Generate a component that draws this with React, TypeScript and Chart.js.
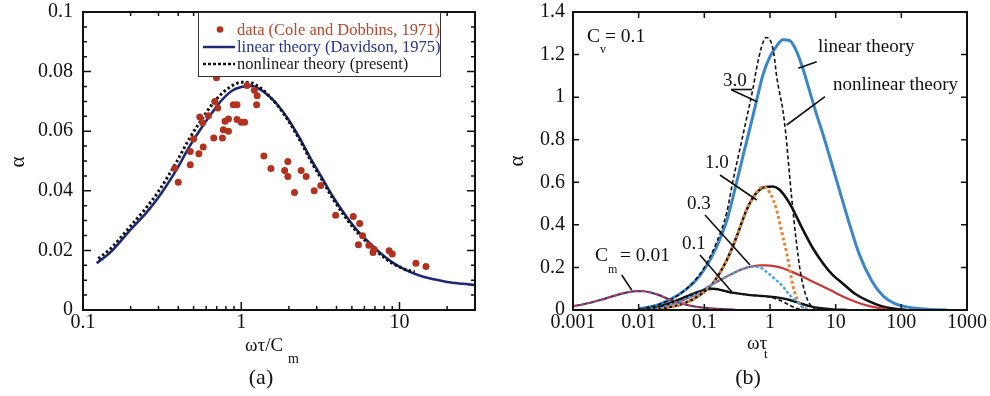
import React, { useEffect, useRef } from 'react';
import { Chart, registerables } from 'chart.js';
Chart.register(...registerables);

const FONT = "'Liberation Serif', 'Times New Roman', serif";

// ---------------- Panel (a) data ----------------
const A_X_TICKS = [0.1, 1, 10];
const A_X_LABELS = ['0.1', '1', '10'];
const A_X_MINOR = [0.2, 0.3, 0.4, 0.5, 0.6, 0.7, 0.8, 0.9, 2, 3, 4, 5, 6, 7, 8, 9, 20];
const A_Y_TICKS = [0, 0.02, 0.04, 0.06, 0.08, 0.1];
const A_Y_LABELS = ['0', '0.02', '0.04', '0.06', '0.08', '0.1'];
const A_Y_MINOR = [0.005, 0.01, 0.015, 0.025, 0.03, 0.035, 0.045, 0.05, 0.055, 0.065, 0.07, 0.075, 0.085, 0.09, 0.095];

const A_LIN_X = [0.122, 0.15, 0.2, 0.25, 0.3, 0.39, 0.47, 0.55, 0.65, 0.75, 0.87, 1.0, 1.15, 1.3, 1.5, 1.7, 2.0, 2.35, 2.8, 3.2, 3.8, 4.5, 5.3, 6.2, 7.5, 9, 11, 13.5, 16.5, 20, 25, 30];
const A_LIN_Y = [0.0157, 0.0195, 0.027, 0.0325, 0.0378, 0.0471, 0.0548, 0.0605, 0.066, 0.0703, 0.0735, 0.0748, 0.0752, 0.0742, 0.0717, 0.0688, 0.0637, 0.0575, 0.05, 0.0448, 0.038, 0.0322, 0.0272, 0.0234, 0.0193, 0.016, 0.0134, 0.0115, 0.0103, 0.0094, 0.0088, 0.0084];

const A_NL_X = [0.125, 0.15, 0.2, 0.25, 0.3, 0.39, 0.47, 0.55, 0.65, 0.75, 0.87, 1.0, 1.15, 1.3, 1.5, 1.7, 2.0, 2.35, 2.8, 3.2, 3.8, 4.5, 5.3, 6.2, 7.5, 9, 11, 12.5];
const A_NL_Y = [0.0172, 0.0207, 0.0282, 0.0342, 0.0398, 0.0497, 0.0575, 0.0632, 0.0688, 0.0725, 0.0752, 0.0764, 0.0762, 0.0748, 0.0718, 0.0686, 0.0632, 0.0569, 0.0493, 0.0441, 0.0373, 0.0315, 0.0266, 0.0228, 0.0188, 0.0157, 0.0135, 0.0128];

const A_DATA_X = [0.38, 0.40, 0.476, 0.476, 0.50, 0.54, 0.547, 0.57, 0.575, 0.62, 0.67, 0.68, 0.697, 0.71, 0.76, 0.77, 0.79, 0.83, 0.83, 0.89, 0.94, 0.94, 1.0, 1.05, 1.088, 1.21, 1.26, 1.25, 1.39, 1.54, 1.88, 1.97, 1.97, 2.17, 2.39, 2.57, 2.89, 3.18, 3.95, 5.1, 5.6, 5.85, 5.5, 6.4, 6.8, 6.9, 8.6, 9.0, 12.7, 14.7];
const A_DATA_Y = [0.0476, 0.0429, 0.0487, 0.0532, 0.0574, 0.0524, 0.0648, 0.0628, 0.0547, 0.0652, 0.0577, 0.070, 0.0779, 0.0678, 0.0577, 0.0605, 0.0633, 0.0641, 0.060, 0.0689, 0.0689, 0.0639, 0.063, 0.063, 0.0753, 0.0737, 0.0719, 0.0689, 0.0517, 0.0475, 0.0468, 0.0498, 0.0448, 0.0394, 0.0468, 0.0448, 0.040, 0.0418, 0.0318, 0.0314, 0.029, 0.0249, 0.0219, 0.0217, 0.0193, 0.0204, 0.0199, 0.0188, 0.0157, 0.0146];

// ---------------- Panel (b) data ----------------
const B_X_TICKS = [0.001, 0.01, 0.1, 1, 10, 100, 1000];
const B_X_LABELS = ['0.001', '0.01', '0.1', '1', '10', '100', '1000'];
const B_Y_TICKS = [0, 0.2, 0.4, 0.6, 0.8, 1.0, 1.2, 1.4];
const B_Y_LABELS = ['0', '0.2', '0.4', '0.6', '0.8', '1', '1.2', '1.4'];

// Cm = 0.01 (linear and nonlinear coincide)
const B001_X = [0.001, 0.0015, 0.0026, 0.0046, 0.007, 0.0093, 0.012, 0.0148, 0.02, 0.0267, 0.035, 0.048, 0.065, 0.085, 0.12, 0.19, 0.3];
const B001_Y = [0.018, 0.028, 0.047, 0.07, 0.084, 0.089, 0.088, 0.083, 0.071, 0.055, 0.041, 0.028, 0.019, 0.013, 0.008, 0.004, 0.001];

// Cm = 0.1
const B01L_X = [0.0105, 0.015, 0.02, 0.027, 0.04, 0.06, 0.085, 0.108, 0.135, 0.17, 0.22, 0.3, 0.5, 0.75, 1.0, 1.4, 2.0, 3.0, 4.0, 6, 9.1, 15];
const B01L_Y = [0.0, 0.008, 0.015, 0.028, 0.048, 0.07, 0.088, 0.097, 0.1, 0.096, 0.087, 0.079, 0.07, 0.066, 0.063, 0.057, 0.047, 0.03, 0.018, 0.008, 0.003, 0.0];
const B01N_X = [0.0105, 0.015, 0.02, 0.027, 0.04, 0.06, 0.085, 0.108, 0.135, 0.17, 0.22, 0.3, 0.5, 0.75, 1.0, 1.3, 1.6, 2.0, 2.5, 3.2];
const B01N_Y = [0.0, 0.008, 0.015, 0.028, 0.048, 0.07, 0.088, 0.097, 0.1, 0.096, 0.087, 0.079, 0.07, 0.066, 0.06, 0.05, 0.038, 0.022, 0.008, 0.0];

// Cm = 0.3
const B03L_X = [0.0105, 0.015, 0.02, 0.03, 0.048, 0.07, 0.1, 0.15, 0.245, 0.35, 0.5, 0.7, 0.88, 1.2, 1.57, 2.2, 3.2, 4.5, 6.4, 9, 11.5, 16, 25, 40, 60];
const B03L_Y = [0.0, 0.006, 0.012, 0.025, 0.047, 0.07, 0.098, 0.13, 0.165, 0.188, 0.203, 0.21, 0.21, 0.205, 0.196, 0.178, 0.156, 0.133, 0.11, 0.088, 0.07, 0.05, 0.028, 0.012, 0.004];
const B03N_X = [0.0105, 0.015, 0.02, 0.03, 0.048, 0.07, 0.1, 0.15, 0.245, 0.35, 0.5, 0.7, 0.88, 1.2, 1.57, 2.0, 2.55, 3.0, 3.6, 4.0];
const B03N_Y = [0.0, 0.006, 0.012, 0.025, 0.047, 0.07, 0.098, 0.13, 0.165, 0.188, 0.203, 0.2, 0.18, 0.145, 0.11, 0.07, 0.04, 0.02, 0.005, 0.0];

// Cm = 1.0
const B1L_X = [0.015, 0.025, 0.048, 0.085, 0.135, 0.22, 0.31, 0.44, 0.62, 0.85, 1.1, 1.4, 2.0, 3.2, 4.5, 6.4, 9, 12.8, 20, 30, 50, 80, 120];
const B1L_Y = [0.0, 0.01, 0.03, 0.07, 0.126, 0.235, 0.344, 0.47, 0.55, 0.578, 0.58, 0.565, 0.5, 0.375, 0.29, 0.22, 0.165, 0.125, 0.075, 0.045, 0.018, 0.006, 0.0];
const B1N_X = [0.015, 0.025, 0.048, 0.085, 0.135, 0.22, 0.31, 0.44, 0.62, 0.78, 1.0, 1.26, 1.5, 1.79, 2.25, 2.7, 3.2, 3.6];
const B1N_Y = [0.0, 0.01, 0.03, 0.07, 0.126, 0.235, 0.344, 0.47, 0.55, 0.58, 0.55, 0.47, 0.37, 0.27, 0.11, 0.04, 0.012, 0.0];

// Cm = 3.0
const B3L_X = [0.01, 0.02, 0.04, 0.07, 0.1, 0.15, 0.22, 0.31, 0.4, 0.5, 0.62, 0.79, 1.0, 1.26, 1.57, 2.0, 2.5, 3.2, 4.0, 5.1, 6.5, 8.1, 11.5, 16, 23, 35, 52, 80, 136, 250, 500];
const B3L_Y = [0.005, 0.025, 0.07, 0.13, 0.19, 0.29, 0.42, 0.6, 0.74, 0.86, 0.98, 1.11, 1.19, 1.24, 1.27, 1.265, 1.22, 1.13, 1.03, 0.92, 0.82, 0.72, 0.56, 0.41, 0.26, 0.14, 0.068, 0.03, 0.012, 0.004, 0.0];
const B3N_X = [0.01, 0.02, 0.04, 0.07, 0.1, 0.15, 0.22, 0.27, 0.35, 0.44, 0.55, 0.62, 0.75, 0.87, 1.0, 1.15, 1.26, 1.4, 1.57, 1.75, 1.9, 2.15, 2.5, 2.9, 3.5, 4.2, 5];
const B3N_Y = [0.005, 0.025, 0.07, 0.135, 0.2, 0.31, 0.46, 0.6, 0.76, 0.9, 1.04, 1.13, 1.24, 1.28, 1.27, 1.2, 1.1, 1.02, 0.94, 0.82, 0.7, 0.52, 0.33, 0.18, 0.07, 0.02, 0.0];

// ---------------- helpers ----------------
const pts = (xs: number[], ys: number[]) => xs.map((x, i) => ({ x, y: ys[i] }));

function lineDs(xs: number[], ys: number[], color: string, width: number, dash: number[] = []) {
  return {
    type: 'line',
    data: pts(xs, ys),
    borderColor: color,
    backgroundColor: color,
    borderWidth: width,
    borderDash: dash,
    pointRadius: 0,
    fill: false,
    tension: 0,
    cubicInterpolationMode: 'monotone',
  };
}

function framePlugin(xMajor: number[], xMinor: number[], yMajor: number[], yMinor: number[], majLen: number, minLen: number) {
  return {
    id: 'frameTicks',
    afterDatasetsDraw(chart: any) {
      const { ctx, chartArea: a, scales } = chart;
      const xs = scales.x, ys = scales.y;
      ctx.save();
      ctx.strokeStyle = '#111';
      ctx.lineWidth = 1.5;
      ctx.beginPath();
      const xt = (v: number, L: number) => {
        const p = xs.getPixelForValue(v);
        ctx.moveTo(p, a.bottom); ctx.lineTo(p, a.bottom - L);
        ctx.moveTo(p, a.top); ctx.lineTo(p, a.top + L);
      };
      const yt = (v: number, L: number) => {
        const p = ys.getPixelForValue(v);
        ctx.moveTo(a.left, p); ctx.lineTo(a.left + L, p);
        ctx.moveTo(a.right, p); ctx.lineTo(a.right - L, p);
      };
      xMajor.forEach((v) => xt(v, majLen));
      xMinor.forEach((v) => xt(v, minLen));
      yMajor.forEach((v) => yt(v, majLen));
      yMinor.forEach((v) => yt(v, minLen));
      ctx.stroke();
      ctx.lineWidth = 2;
      ctx.strokeRect(a.left, a.top, a.right - a.left, a.bottom - a.top);
      ctx.restore();
    },
  };
}

function text(ctx: CanvasRenderingContext2D, s: string, x: number, y: number, size: number, color = '#111', align: CanvasTextAlign = 'left') {
  ctx.font = `${size}px ${FONT}`;
  ctx.fillStyle = color;
  ctx.textAlign = align;
  ctx.textBaseline = 'middle';
  ctx.fillText(s, x, y);
}

function seg(ctx: CanvasRenderingContext2D, x1: number, y1: number, x2: number, y2: number, w = 1.6) {
  ctx.strokeStyle = '#111';
  ctx.lineWidth = w;
  ctx.setLineDash([]);
  ctx.beginPath();
  ctx.moveTo(x1, y1);
  ctx.lineTo(x2, y2);
  ctx.stroke();
}

function scaleCfg(type: string, min: number, max: number, ticks: number[], labels: string[], size: number, pad: number, isX: boolean) {
  return {
    type,
    min,
    max,
    afterBuildTicks: (s: any) => { s.ticks = ticks.map((v) => ({ value: v })); },
    afterFit: (s: any) => {
      if (isX) { s.height = size; s.paddingLeft = 0; s.paddingRight = 0; }
      else { s.width = size; s.paddingTop = 0; s.paddingBottom = 0; }
    },
    grid: { display: false, drawTicks: false },
    border: { display: false },
    ticks: {
      autoSkip: false,
      maxRotation: 0,
      padding: pad,
      color: '#111',
      font: { family: FONT, size: 20 },
      callback: (_v: any, i: number) => labels[i],
    },
  };
}

// ---------------- Panel (a) ----------------
const annotA = {
  id: 'annotA',
  afterDraw(chart: any) {
    const ctx: CanvasRenderingContext2D = chart.ctx;
    ctx.save();
    ctx.translate(18, 162);
    ctx.rotate(-Math.PI / 2);
    text(ctx, 'α', 0, 0, 21, '#111', 'center');
    ctx.setTransform(1, 0, 0, 1, 0, 0);
    ctx.font = `19px ${FONT}`;
    ctx.fillStyle = '#111';
    ctx.textAlign = 'left';
    ctx.textBaseline = 'alphabetic';
    ctx.fillText('ωτ/C', 245, 351);
    ctx.font = `14px ${FONT}`;
    ctx.fillText('m', 288, 363);
    text(ctx, '(a)', 261, 378, 22, '#111', 'center');
    // legend box
    ctx.fillStyle = '#fff';
    ctx.fillRect(198, 13, 243, 64);
    ctx.strokeStyle = '#333';
    ctx.lineWidth = 1;
    ctx.strokeRect(198.5, 12.5, 242, 64);
    ctx.fillStyle = '#b0321f';
    ctx.beginPath();
    ctx.arc(220, 29.5, 3.3, 0, Math.PI * 2);
    ctx.fill();
    ctx.strokeStyle = '#1c2a78';
    ctx.lineWidth = 2.5;
    ctx.beginPath(); ctx.moveTo(203, 47); ctx.lineTo(235, 47); ctx.stroke();
    ctx.strokeStyle = '#111';
    ctx.setLineDash([3, 2]);
    ctx.beginPath(); ctx.moveTo(203, 64); ctx.lineTo(235, 64); ctx.stroke();
    ctx.setLineDash([]);
    text(ctx, 'data (Cole and Dobbins, 1971)', 237, 31, 16.5, '#b4472d');
    text(ctx, 'linear theory (Davidson, 1975)', 237, 47.5, 16.5, '#26358a');
    text(ctx, 'nonlinear theory (present)', 237, 64.5, 16.5, '#1a1a1a');
    ctx.restore();
  },
};

function PanelA() {
  const ref = useRef<HTMLCanvasElement>(null);
  useEffect(() => {
    const chart = new Chart(ref.current as HTMLCanvasElement, {
      type: 'line',
      data: {
        datasets: [
          {
            type: 'scatter',
            data: pts(A_DATA_X, A_DATA_Y),
            pointRadius: 3.5,
            pointBackgroundColor: '#b0321f',
            pointBorderWidth: 0,
            showLine: false,
          } as any,
          lineDs(A_NL_X, A_NL_Y, '#111', 3, [2.5, 2.5]) as any,
          lineDs(A_LIN_X, A_LIN_Y, '#1c2a78', 2.6) as any,
        ],
      },
      options: {
        responsive: false,
        animation: false,
        devicePixelRatio: 1,
        layout: { padding: { top: 12, right: 20, left: 0, bottom: 0 } },
        plugins: { legend: { display: false }, tooltip: { enabled: false } },
        scales: {
          x: scaleCfg('logarithmic', 0.1, 30, A_X_TICKS, A_X_LABELS, 86, 1, true) as any,
          y: scaleCfg('linear', 0, 0.1, A_Y_TICKS, A_Y_LABELS, 83, 10, false) as any,
        },
      },
      plugins: [framePlugin(A_X_TICKS, A_X_MINOR, A_Y_TICKS, A_Y_MINOR, 8, 4), annotA],
    });
    return () => chart.destroy();
  }, []);
  return <canvas ref={ref} width={495} height={396} style={{ position: 'absolute', left: 0, top: 0, width: 495, height: 396 }} />;
}

// ---------------- Panel (b) ----------------
const annotB = {
  id: 'annotB',
  afterDraw(chart: any) {
    const ctx: CanvasRenderingContext2D = chart.ctx;
    ctx.save();
    ctx.translate(22, 161);
    ctx.rotate(-Math.PI / 2);
    text(ctx, 'α', 0, 0, 21, '#111', 'center');
    ctx.setTransform(1, 0, 0, 1, 0, 0);
    ctx.font = `19px ${FONT}`;
    ctx.fillStyle = '#111';
    ctx.textAlign = 'left';
    ctx.textBaseline = 'alphabetic';
    ctx.fillText('ωτ', 252, 349);
    ctx.font = `13px ${FONT}`;
    ctx.fillText('t', 269, 358);
    text(ctx, '(b)', 253, 378, 22, '#111', 'center');

    text(ctx, 'C', 92, 37, 19.5);
    text(ctx, 'v', 105, 50, 12);
    text(ctx, '= 0.1', 110, 37, 19.5);

    text(ctx, 'linear theory', 323, 47, 19);
    seg(ctx, 321.7, 61.7, 303.3, 68.3);
    text(ctx, 'nonlinear theory', 338, 85, 19);
    seg(ctx, 330, 96.7, 291.7, 125);

    text(ctx, '3.0', 228, 81, 19);
    seg(ctx, 236, 89.5, 257, 89.5);
    seg(ctx, 236.7, 90, 262.3, 101.7);

    text(ctx, '1.0', 210, 163, 19);
    seg(ctx, 225, 175, 261.7, 200);

    text(ctx, '0.3', 192, 204, 19);
    seg(ctx, 210, 215, 255, 265);

    text(ctx, '0.1', 187, 244, 19);
    seg(ctx, 205, 255, 236.7, 291.7);

    text(ctx, 'C', 100, 256, 19.5);
    text(ctx, 'm', 113, 270, 12);
    text(ctx, '= 0.01', 125, 256, 19.5);
    seg(ctx, 126.7, 275, 136.7, 290);
    ctx.restore();
  },
};

function PanelB() {
  const ref = useRef<HTMLCanvasElement>(null);
  useEffect(() => {
    const chart = new Chart(ref.current as HTMLCanvasElement, {
      type: 'line',
      data: {
        datasets: [
          lineDs(B001_X, B001_Y, '#d0403a', 1.6, [4, 3]) as any,
          lineDs(B01N_X, B01N_Y, '#111', 1.6, [4, 2.5]) as any,
          lineDs(B03N_X, B03N_Y, '#4aa3e0', 2.4, [3, 2]) as any,
          lineDs(B1N_X, B1N_Y, '#e0883a', 3, [3, 2.5]) as any,
          lineDs(B3N_X, B3N_Y, '#111', 1.6, [4, 2.5]) as any,
          lineDs(B001_X, B001_Y, '#33338a', 2.2) as any,
          lineDs(B01L_X, B01L_Y, '#111', 2.4) as any,
          lineDs(B03L_X, B03L_Y, '#c8383a', 2.2) as any,
          lineDs(B1L_X, B1L_Y, '#111', 2.6) as any,
          lineDs(B3L_X, B3L_Y, '#3a86c8', 3) as any,
        ],
      },
      options: {
        responsive: false,
        animation: false,
        devicePixelRatio: 1,
        layout: { padding: { top: 12, right: 23, left: 0, bottom: 0 } },
        plugins: { legend: { display: false }, tooltip: { enabled: false } },
        scales: {
          x: scaleCfg('logarithmic', 0.001, 1000, B_X_TICKS, B_X_LABELS, 86, 1, true) as any,
          y: scaleCfg('linear', 0, 1.4, B_Y_TICKS, B_Y_LABELS, 78, 8, false) as any,
        },
      },
      plugins: [framePlugin(B_X_TICKS, [], B_Y_TICKS, [], 6, 0), annotB],
    });
    return () => chart.destroy();
  }, []);
  return <canvas ref={ref} width={495} height={396} style={{ position: 'absolute', left: 495, top: 0, width: 495, height: 396 }} />;
}

export default function App() {
  return (
    <div style={{ position: 'fixed', left: 0, top: 0, width: 990, height: 396, background: '#fff', overflow: 'hidden' }}>
      <PanelA />
      <PanelB />
    </div>
  );
}
